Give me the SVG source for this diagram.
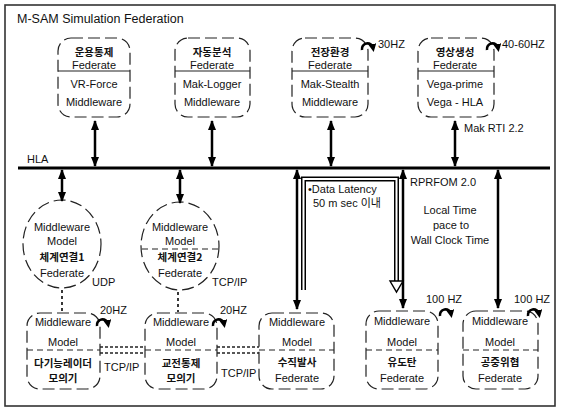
<svg xmlns="http://www.w3.org/2000/svg" width="561" height="410" viewBox="0 0 561 410">
<defs>
<style>
.t{font-family:"Liberation Sans","Noto Sans CJK KR",sans-serif;font-size:11px;fill:#111;text-anchor:middle}
.l{text-anchor:start}
.k{font-family:"Noto Sans CJK KR","Liberation Sans",sans-serif;font-weight:bold;font-size:10.5px}
.box{fill:none;stroke:#222;stroke-width:1.2;stroke-dasharray:12 5}
.div{stroke:#222;stroke-width:1.2}
.ddiv{stroke:#222;stroke-width:1.2;stroke-dasharray:6 4}
.arr{stroke:#000;stroke-width:2.5;fill:none;marker-start:url(#ah);marker-end:url(#ah)}
.cur{stroke:#000;stroke-width:2.6;fill:none;marker-end:url(#sh)}
.dot{stroke:#222;stroke-width:1.8;stroke-dasharray:3 3}
</style>
<marker id="ah" viewBox="0 0 10 8" refX="9" refY="4" markerWidth="10" markerHeight="8" markerUnits="userSpaceOnUse" orient="auto-start-reverse">
<path d="M0,0 L10,4 L0,8 z" fill="#000"/>
</marker>
<marker id="sh" viewBox="0 0 8 8" refX="4" refY="4" markerWidth="8" markerHeight="8" markerUnits="userSpaceOnUse" orient="auto">
<path d="M0,0 L8,4 L0,8 z" fill="#000"/>
</marker>
</defs>
<rect x="0" y="0" width="561" height="410" fill="#fff"/>
<rect x="5" y="5" width="550" height="401" fill="none" stroke="#333" stroke-width="1.6"/>
<text class="t l" x="17" y="23" style="font-size:12.5px">M-SAM Simulation Federation</text>

<g id="fed-ops">
<rect class="box" x="58" y="38" width="72" height="79" rx="13"/>
<line class="div" x1="58" y1="71" x2="130" y2="71"/>
<text class="t k" x="94" y="56">운용통제</text>
<text class="t" x="94" y="69">Federate</text>
<text class="t" x="94" y="88">VR-Force</text>
<text class="t" x="94" y="106">Middleware</text>
</g>
<g id="fed-analysis">
<rect class="box" x="175" y="38" width="75" height="79" rx="13"/>
<line class="div" x1="175" y1="71" x2="250" y2="71"/>
<text class="t k" x="212" y="56">자동분석</text>
<text class="t" x="212" y="69">Federate</text>
<text class="t" x="212" y="88">Mak-Logger</text>
<text class="t" x="212" y="106">Middleware</text>
</g>
<g id="fed-env">
<rect class="box" x="292" y="38" width="76" height="79" rx="13"/>
<line class="div" x1="292" y1="71" x2="368" y2="71"/>
<text class="t k" x="330" y="56">전장환경</text>
<text class="t" x="330" y="69">Federate</text>
<text class="t" x="330" y="88">Mak-Stealth</text>
<text class="t" x="330" y="106">Middleware</text>
<path class="cur" d="M362,50 A5.5,5.5 0 1 1 373,48"/>
<text class="t l" x="378" y="48">30HZ</text>
</g>
<g id="fed-image">
<rect class="box" x="418" y="38" width="76" height="79" rx="13"/>
<line class="div" x1="418" y1="71" x2="494" y2="71"/>
<text class="t k" x="455" y="56">영상생성</text>
<text class="t" x="455" y="69">Federate</text>
<text class="t" x="455" y="88">Vega-prime</text>
<text class="t" x="455" y="106">Vega - HLA</text>
<path class="cur" d="M487,50 A5.5,5.5 0 1 1 498,48"/>
<text class="t l" x="502" y="48">40-60HZ</text>
</g>

<g id="hla-bus">
<line x1="18" y1="168" x2="550" y2="168" stroke="#000" stroke-width="3"/>
<text class="t l" x="27" y="163">HLA</text>
<text class="t l" x="410" y="186">RPRFOM 2.0</text>
<text class="t l" x="464" y="132">Mak RTI 2.2</text>
</g>

<g id="fed-sys1">
<ellipse cx="62" cy="244" rx="39" ry="44" fill="none" stroke="#222" stroke-width="1.2" stroke-dasharray="12 5"/>
<text class="t" x="62" y="231">Middleware</text>
<text class="t" x="62" y="245">Model</text>
<text class="t k" x="62" y="261">체계연결1</text>
<text class="t" x="62" y="277">Federate</text>
</g>
<g id="fed-sys2">
<ellipse cx="180" cy="246" rx="39" ry="44" fill="none" stroke="#222" stroke-width="1.2" stroke-dasharray="12 5"/>
<line class="ddiv" x1="142" y1="249" x2="218" y2="249"/>
<text class="t" x="180" y="231">Middleware</text>
<text class="t" x="180" y="245">Model</text>
<text class="t k" x="180" y="261">체계연결2</text>
<text class="t" x="180" y="277">Federate</text>
</g>

<g id="sim-radar">
<rect class="box" x="27" y="313" width="73" height="76" rx="13"/>
<line class="ddiv" x1="27" y1="350" x2="100" y2="350"/>
<text class="t" x="63" y="326">Middleware</text>
<text class="t" x="63" y="346">Model</text>
<text class="t k" x="63" y="367">다기능레이더</text>
<text class="t k" x="63" y="382">모의기</text>
<path class="cur" d="M97,326 A5.5,5.5 0 1 1 108,324"/>
<text class="t l" x="100" y="314">20HZ</text>
</g>
<g id="sim-engage">
<rect class="box" x="145" y="313" width="72" height="76" rx="13"/>
<line class="ddiv" x1="145" y1="350" x2="217" y2="350"/>
<text class="t" x="181" y="326">Middleware</text>
<text class="t" x="181" y="346">Model</text>
<text class="t k" x="181" y="367">교전통제</text>
<text class="t k" x="181" y="382">모의기</text>
<path class="cur" d="M213,326 A5.5,5.5 0 1 1 224,324"/>
<text class="t l" x="220" y="314">20HZ</text>
</g>
<g id="fed-launch">
<rect class="box" x="259" y="313" width="75" height="76" rx="13"/>
<line class="ddiv" x1="259" y1="350" x2="334" y2="350"/>
<text class="t" x="297" y="326">Middleware</text>
<text class="t" x="297" y="346">Model</text>
<text class="t k" x="297" y="366">수직발사</text>
<text class="t" x="297" y="382">Federate</text>
</g>
<g id="fed-missile">
<rect class="box" x="366" y="311" width="72" height="78" rx="13"/>
<line class="ddiv" x1="366" y1="350" x2="438" y2="350"/>
<text class="t" x="402" y="325">Middleware</text>
<text class="t" x="402" y="346">Model</text>
<text class="t k" x="402" y="366">유도탄</text>
<text class="t" x="402" y="382">Federate</text>
<path class="cur" d="M440,316 A5.5,5.5 0 1 1 451,314"/>
<text class="t l" x="426" y="303">100 HZ</text>
</g>
<g id="fed-threat">
<rect class="box" x="463" y="311" width="75" height="78" rx="13"/>
<line class="ddiv" x1="463" y1="350" x2="538" y2="350"/>
<text class="t" x="500" y="325">Middleware</text>
<text class="t" x="500" y="346">Model</text>
<text class="t k" x="500" y="366">공중위협</text>
<text class="t" x="500" y="382">Federate</text>
<path class="cur" d="M528,316 A5.5,5.5 0 1 1 539,314"/>
<text class="t l" x="514" y="303">100 HZ</text>
</g>

<g id="connectors">
<line class="arr" x1="95" y1="121" x2="95" y2="166"/>
<line class="arr" x1="212" y1="121" x2="212" y2="166"/>
<line class="arr" x1="331" y1="121" x2="331" y2="166"/>
<line class="arr" x1="455" y1="121" x2="455" y2="166"/>
<line class="arr" x1="62" y1="170" x2="62" y2="201"/>
<line class="arr" x1="180" y1="170" x2="180" y2="203"/>
<line class="arr" x1="297" y1="170" x2="297" y2="309"/>
<line class="arr" x1="403" y1="170" x2="403" y2="308"/>
<line class="arr" x1="498" y1="170" x2="498" y2="308"/>
<line class="dot" x1="62" y1="290" x2="62" y2="312"/>
<line class="dot" x1="178" y1="292" x2="178" y2="312"/>
<text class="t l" x="92" y="286">UDP</text>
<text class="t l" x="212" y="286">TCP/IP</text>
<g stroke="#222" stroke-width="1.3" stroke-dasharray="3 2">
<line x1="100" y1="347" x2="145" y2="347"/>
<line x1="100" y1="353" x2="145" y2="353"/>
<line x1="217" y1="347" x2="259" y2="347"/>
<line x1="217" y1="353" x2="259" y2="353"/>
</g>
<text class="t l" x="104" y="371">TCP/IP</text>
<text class="t l" x="221" y="377">TCP/IP</text>
<path d="M303.5,290 L303.5,179 L396.5,179 L396.5,281" fill="none" stroke="#000" stroke-width="5"/>
<path d="M303.5,291 L303.5,179 L396.5,179 L396.5,282" fill="none" stroke="#fff" stroke-width="2"/>
<polygon points="390,281 403,281 396.5,292" fill="#fff" stroke="#000" stroke-width="1.4"/>
<text class="t l" x="308" y="193">•Data Latency</text>
<text class="t l" x="313" y="207">50 m sec 이내</text>
<text class="t" x="450" y="214">Local Time</text>
<text class="t" x="451" y="229">pace to</text>
<text class="t" x="450" y="244">Wall Clock Time</text>
</g>
</svg>
